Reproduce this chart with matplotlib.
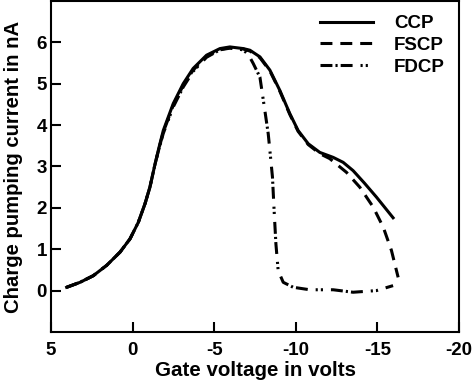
import matplotlib
matplotlib.use("Agg")
import matplotlib.pyplot as plt

plt.rcParams['font.family'] = ['Liberation Sans', 'DejaVu Sans']
plt.rcParams['font.weight'] = 'bold'

# Data (gate voltage in V, current in nA)
ccp_x = [4.04, 3.22, 2.41, 1.59, 0.77, 0.16, -0.35, -0.76, -1.06, -1.37, -1.61, -1.88,
         -2.49, -3.10, -3.71, -4.53, -5.35, -5.96, -6.78, -7.19, -7.80, -8.41, -9.02,
         -9.63, -10.14, -10.76, -11.47, -12.29, -12.90, -13.51, -14.20, -14.94, -15.96]
ccp_y = [0.08, 0.20, 0.36, 0.61, 0.93, 1.25, 1.65, 2.10, 2.50, 3.05, 3.45, 3.87,
         4.52, 5.00, 5.37, 5.69, 5.85, 5.89, 5.85, 5.81, 5.65, 5.33, 4.84,
         4.28, 3.87, 3.55, 3.34, 3.22, 3.10, 2.90, 2.60, 2.26, 1.76]

fscp_x = [4.04, 3.22, 2.41, 1.59, 0.77, 0.16, -0.35, -0.76, -1.06, -1.37, -1.61, -1.88,
          -2.49, -3.10, -3.71, -4.53, -5.35, -5.96, -6.78, -7.19, -7.80, -8.41, -9.02,
          -9.63, -10.14, -10.76, -11.47, -12.08, -13.10, -13.92, -14.74, -15.36, -15.86,
          -16.27]
fscp_y = [0.08, 0.20, 0.36, 0.61, 0.93, 1.25, 1.65, 2.10, 2.50, 3.05, 3.43, 3.83,
          4.48, 4.96, 5.33, 5.66, 5.83, 5.87, 5.84, 5.79, 5.63, 5.31, 4.82,
          4.26, 3.85, 3.53, 3.31, 3.19, 2.86, 2.50, 2.02, 1.53, 0.97,
          0.32]

fdcp_x = [4.04, 3.22, 2.41, 1.59, 0.77, 0.16, -0.35, -0.76, -1.06, -1.37, -1.61, -1.88,
          -2.49, -3.10, -3.71, -4.53, -5.35, -5.96, -6.78, -7.10, -7.39, -7.80, -8.10,
          -8.31, -8.45, -8.57, -8.67, -8.78, -8.92, -9.23, -9.84, -10.86, -12.29, -13.51,
          -14.94, -15.96]
fdcp_y = [0.08, 0.20, 0.36, 0.61, 0.93, 1.25, 1.65, 2.10, 2.50, 3.05, 3.42, 3.80,
          4.44, 4.92, 5.30, 5.64, 5.82, 5.86, 5.82, 5.70, 5.49, 5.16, 4.36,
          3.79, 3.23, 2.74, 1.94, 1.13, 0.48, 0.20, 0.08, 0.02, 0.02, -0.04,
          0.00, 0.12]

labels = ['CCP', 'FSCP', 'FDCP']
xticks = [5, 0, -5, -10, -15, -20]
yticks = [0, 1, 2, 3, 4, 5, 6]

fig = plt.figure(figsize=(4.74, 3.86), dpi=100)
ax = fig.add_axes([0.1076, 0.14, 0.8608, 0.8574])

lw = 2.2
ax.plot(ccp_x, ccp_y, color='black', lw=lw, linestyle='-', label=labels[0])
ax.plot(fscp_x, fscp_y, color='black', lw=lw, linestyle=(0, (3.9, 2.6)), label=labels[1])
ax.plot(fdcp_x, fdcp_y, color='black', lw=lw,
        linestyle=(0, (3.9, 1.0, 0.7, 1.0, 3.9, 2.6, 0.7, 1.0, 0.7, 2.6)), label=labels[2])

ax.set_xlim(5, -20)
ax.set_ylim(-1, 7)
ax.set_xticks(xticks)
ax.set_xticklabels([str(t) for t in xticks])
ax.set_yticks(yticks)
ax.tick_params(direction='in', length=7, width=1.5, labelsize=13.5)
ax.tick_params(axis='x', pad=7)
ax.tick_params(axis='y', pad=3)
for lab in ax.get_xticklabels() + ax.get_yticklabels():
    lab.set_fontweight('bold')
for s in ax.spines.values():
    s.set_linewidth(1.5)

ax.set_xlabel('Gate voltage in volts', fontsize=14.8, fontweight='bold', labelpad=2)
ax.set_ylabel('Charge pumping current in nA', fontsize=14.6, fontweight='bold', labelpad=10)

leg = ax.legend(loc='upper right', frameon=False, handlelength=2.8,
                handletextpad=1.15, labelspacing=0.25, borderaxespad=0.35,
                prop={'size': 13.5, 'weight': 'bold'})

fig.savefig('out.png', dpi=100)
